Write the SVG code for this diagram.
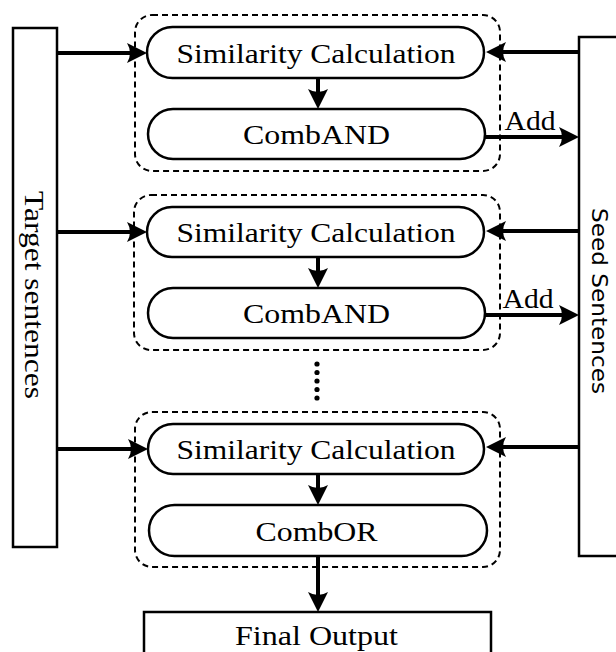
<svg xmlns="http://www.w3.org/2000/svg" xmlns:xlink="http://www.w3.org/1999/xlink" width="616" height="652" viewBox="0 0 616 652">
<style>
.box{fill:#fff;stroke:#000;stroke-width:2.5}
.pill{fill:#fff;stroke:#000;stroke-width:2.5}
.grp{fill:none;stroke:#000;stroke-width:2;stroke-dasharray:6 4}
.ln{stroke:#000;stroke-width:4;fill:none}
.t{font-family:"Liberation Serif","Times New Roman",serif;font-size:28px;fill:#000;text-anchor:middle}
.s{font-family:"DejaVu Sans",sans-serif;font-size:22px;fill:#000;text-anchor:middle}
</style>
<defs>
<path id="ah" d="M0,0 L-20,-10 Q-14,0 -20,10 Z" fill="#000"/>
</defs>
<rect width="616" height="652" fill="#fff"/>

<g id="target">
<rect class="box" x="13" y="28" width="44" height="519"/>
<text class="t" font-size="27" textLength="208" lengthAdjust="spacingAndGlyphs" transform="translate(25,295) rotate(90)">Target sentences</text>
</g>
<g id="seed">
<rect class="box" x="579" y="37" width="45" height="519"/>
<text class="s" textLength="186" lengthAdjust="spacingAndGlyphs" transform="translate(592,301) rotate(90)">Seed Sentences</text>
</g>

<g id="group1">
<rect class="grp" x="135" y="15" width="365" height="156" rx="17"/>
</g>
<g id="group2">
<rect class="grp" x="134" y="195" width="366" height="155" rx="17"/>
</g>
<g id="group3">
<rect class="grp" x="135" y="412" width="365" height="155" rx="17"/>
</g>

<g id="sim1">
<rect class="pill" x="147" y="27" width="337" height="51" rx="25.5"/>
<text class="t" x="316" y="63" textLength="279" lengthAdjust="spacingAndGlyphs">Similarity Calculation</text>
</g>
<g id="and1">
<rect class="pill" x="148" y="109" width="337" height="50" rx="25"/>
<text class="t" x="316.5" y="144" textLength="147" lengthAdjust="spacingAndGlyphs">CombAND</text>
</g>
<g id="sim2">
<rect class="pill" x="147" y="207" width="337" height="50" rx="25"/>
<text class="t" x="316" y="242" textLength="279" lengthAdjust="spacingAndGlyphs">Similarity Calculation</text>
</g>
<g id="and2">
<rect class="pill" x="148" y="288" width="337" height="50" rx="25"/>
<text class="t" x="316.5" y="323" textLength="147" lengthAdjust="spacingAndGlyphs">CombAND</text>
</g>
<g id="sim3">
<rect class="pill" x="148" y="424" width="336" height="50" rx="25"/>
<text class="t" x="316" y="459" textLength="279" lengthAdjust="spacingAndGlyphs">Similarity Calculation</text>
</g>
<g id="or3">
<rect class="pill" x="149" y="505" width="338" height="51" rx="25.5"/>
<text class="t" x="316.5" y="541" textLength="122" lengthAdjust="spacingAndGlyphs">CombOR</text>
</g>
<g id="final">
<rect class="box" x="144" y="612" width="347" height="50"/>
<text class="t" x="316.5" y="645" textLength="163" lengthAdjust="spacingAndGlyphs">Final Output</text>
</g>

<g id="dots" fill="#000">
<circle cx="317" cy="364" r="2.6"/>
<circle cx="317" cy="372.5" r="2.6"/>
<circle cx="317" cy="381" r="2.6"/>
<circle cx="317" cy="389.5" r="2.6"/>
<circle cx="317" cy="398" r="2.6"/>
</g>

<g id="connectors">
<path class="ln" d="M57,53 H135 M57,232 H135 M57,449 H135"/>
<use xlink:href="#ah" transform="translate(147,53)"/>
<use xlink:href="#ah" transform="translate(147,232)"/>
<use xlink:href="#ah" transform="translate(148,449)"/>
<path class="ln" d="M579,52 H498 M579,231 H498 M579,447 H498"/>
<use xlink:href="#ah" transform="translate(486,52) rotate(180)"/>
<use xlink:href="#ah" transform="translate(486,231) rotate(180)"/>
<use xlink:href="#ah" transform="translate(486,447) rotate(180)"/>
<path class="ln" d="M485,137 H567 M485,315 H567"/>
<use xlink:href="#ah" transform="translate(579,137)"/>
<use xlink:href="#ah" transform="translate(579,315)"/>
<text class="t" x="530" y="130" font-size="26" textLength="51" lengthAdjust="spacingAndGlyphs">Add</text>
<text class="t" x="528" y="308" font-size="26" textLength="51" lengthAdjust="spacingAndGlyphs">Add</text>
<path class="ln" d="M318,78 V97 M318,257 V276 M318,474 V493 M318,556 V600"/>
<use xlink:href="#ah" transform="translate(318,109) rotate(90)"/>
<use xlink:href="#ah" transform="translate(318,288) rotate(90)"/>
<use xlink:href="#ah" transform="translate(318,505) rotate(90)"/>
<use xlink:href="#ah" transform="translate(318,612) rotate(90)"/>
</g>
</svg>
